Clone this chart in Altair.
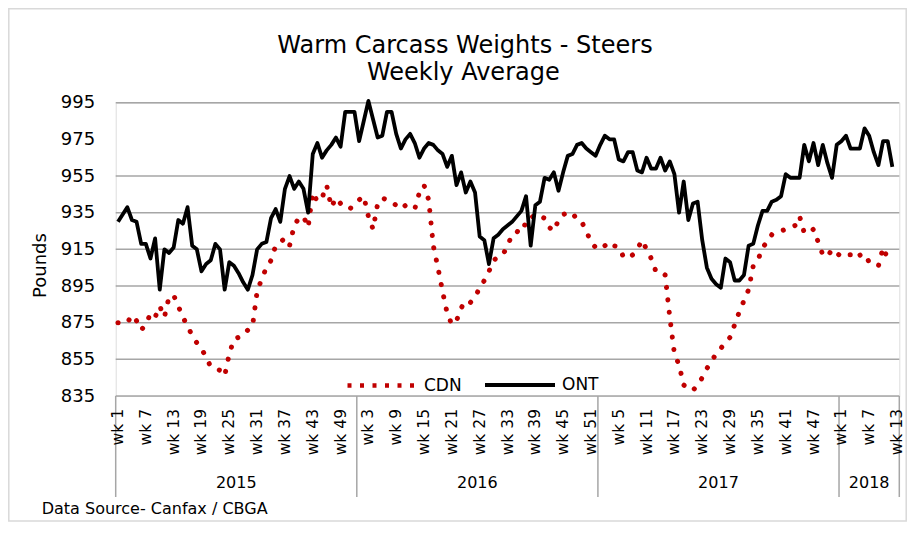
import altair as alt
import pandas as pd

# ---------------- data ----------------
title_lines = ["Warm Carcass Weights - Steers", "Weekly Average"]
source_note = ["Data Source- Canfax / CBGA"]
years = ["2015", "2016", "2017", "2018"]
weeks_in_year = [52, 52, 52, 13]
tick_labels = [
    "wk 1", "wk 7", "wk 13", "wk 19", "wk 25", "wk 31", "wk 37", "wk 43", "wk 49",
    "wk 3", "wk 9", "wk 15", "wk 21", "wk 27", "wk 33", "wk 39", "wk 45", "wk 51",
    "wk 5", "wk 11", "wk 17", "wk 23", "wk 29", "wk 35", "wk 41", "wk 47",
    "wk 1", "wk 7", "wk 13",
]
y_ticks = [835, 855, 875, 895, 915, 935, 955, 975, 995]
grid_values = [835, 855, 875, 895, 915, 935, 955, 995]

ont = [
    930, 934, 938, 931, 930, 918, 918, 910, 921, 893,
    915, 913, 916, 931, 929, 938, 917, 915, 903, 907,
    909, 918, 915, 893, 908, 906, 902, 897, 893, 901,
    915, 918, 919, 932, 937, 930, 948, 955, 948, 952,
    948, 935, 967, 973, 965, 969, 972, 976, 971, 990,
    990, 990, 974, 985, 996, 986, 976, 977, 990, 990,
    978, 970, 975, 978, 973, 965, 970, 973, 972, 969,
    967, 960, 966, 950, 957, 946, 952, 946, 922, 920,
    907, 921, 923, 926, 928, 930, 933, 936, 944, 917,
    939, 941, 954, 953, 957, 947, 957, 966, 967, 972,
    973, 970, 968, 966, 972, 977, 975, 975, 964, 963,
    968, 968, 958, 957, 965, 959, 959, 965, 958, 963,
    956, 935, 952, 931, 940, 941, 920, 905, 899, 896,
    894, 910, 908, 898, 898, 901, 917, 918, 928, 936,
    936, 941, 942, 944, 956, 954, 954, 954, 972, 963,
    973, 961, 972, 962, 954, 972, 974, 977, 970, 970,
    970, 981, 977, 968, 961, 974, 974, 960,
]
cdn = [
    875, 875, 875, 879, 876, 871, 874, 880, 878, 884,
    878, 889, 890, 884, 878, 873, 868, 864, 861, 856,
    851, 850, 849, 846, 858, 866, 867, 868, 871, 873,
    892, 899, 905, 909, 917, 919, 921, 917, 928, 932,
    933, 927, 946, 941, 943, 950, 938, 943, 940, 938,
    937, 940, 942, 944, 933, 926, 940, 943, 942, 941,
    939, 937, 939, 938, 937, 946, 950, 942, 917, 905,
    892, 880, 874, 876, 883, 887, 886, 889, 894, 898,
    903, 909, 911, 912, 917, 923, 924, 929, 928, 932,
    934, 933, 932, 927, 925, 931, 934, 935, 935, 931,
    930, 925, 919, 916, 915, 917, 919, 917, 916, 911,
    910, 912, 915, 920, 915, 910, 903, 903, 901, 878,
    858, 852, 841, 839, 838, 841, 845, 850, 854, 858,
    861, 864, 867, 874, 881, 887, 893, 906, 909, 916,
    919, 923, 924, 925, 926, 927, 928, 933, 924, 924,
    926, 919, 912, 911, 915, 913, 911, 912, 912, 910,
    912, 908, 909, 908, 906, 916, 910, 910,
]

# ---------------- tables ----------------
cdn_df = pd.DataFrame({"x": [i + 0.5 for i in range(len(cdn))], "value": cdn, "series": "CDN"})
ont_df = pd.DataFrame({"x": [i + 0.5 for i in range(len(ont))], "value": ont, "series": "ONT"})

total_weeks = sum(weeks_in_year)
ticks_df = pd.DataFrame({"x": [i * 6 + 0.5 for i in range(len(tick_labels))],
                         "label": tick_labels})
bounds = [0]
for n in weeks_in_year:
    bounds.append(bounds[-1] + n)
years_df = pd.DataFrame({"x": [(bounds[k] + bounds[k + 1]) / 2 for k in range(len(years))],
                         "label": years})
div_df = pd.DataFrame({"x": bounds})
grid_df = pd.DataFrame({"value": grid_values})

W = 783.6
H = 293.3
FONT = "DejaVu Sans"
GRAY = "#A6A6A6"
BLACK = "#000000"
RED = "#C00000"

xscale = alt.Scale(domain=[0, total_weeks], nice=False, zero=False)
yscale = alt.Scale(domain=[835, 995], nice=False, zero=False)
yaxis = alt.Axis(values=y_ticks, grid=False, domain=False, ticks=False, tickSize=0,
                 labelFontSize=18, labelFont=FONT, labelColor=BLACK, labelPadding=21,
                 title="Pounds", titleFont=FONT, titleFontSize=18, titleFontWeight="normal",
                 titleColor=BLACK, titleAngle=270, titleAlign="center",
                 titleBaseline="alphabetic", titleX=-70.7, titleY=162.3)

grid = alt.Chart(grid_df).mark_rule(color=GRAY, strokeWidth=1.5).encode(
    y=alt.Y("value:Q", scale=yscale, axis=yaxis),
    x=alt.value(0), x2=alt.value(W),
)

dividers = alt.Chart(div_df).mark_rule(color=GRAY, strokeWidth=1.5).encode(
    x=alt.X("x:Q", scale=xscale, axis=None),
    y=alt.value(H), y2=alt.value(H + 101),
)

week_labels = alt.Chart(ticks_df).mark_text(
    angle=270, align="right", baseline="middle", fontSize=15.5, font=FONT, color=BLACK
).encode(
    x=alt.X("x:Q", scale=xscale, axis=None),
    y=alt.value(H + 13),
    text="label:N",
)

year_labels = alt.Chart(years_df).mark_text(
    align="center", baseline="middle", fontSize=16, font=FONT, color=BLACK
).encode(
    x=alt.X("x:Q", scale=xscale, axis=None),
    y=alt.value(H + 87),
    text="label:N",
)

cdn_legend = alt.Legend(title=None, orient="none", legendX=229.3, legendY=246.8,
                        symbolType="stroke", symbolSize=4489, symbolDash=[4, 8.5],
                        symbolStrokeWidth=4.5, symbolStrokeColor=RED,
                        labelFontSize=17, labelFont=FONT, labelColor=BLACK, labelOffset=7)
ont_legend = alt.Legend(title=None, orient="none", legendX=367.3, legendY=245.3,
                        symbolType="stroke", symbolSize=4900, symbolStrokeWidth=4,
                        symbolStrokeColor=BLACK,
                        labelFontSize=17, labelFont=FONT, labelColor=BLACK, labelOffset=5)

cdn_line = alt.Chart(cdn_df).mark_line(
    strokeWidth=5, strokeCap="round", strokeDash=[0.1, 12.4], strokeJoin="round"
).encode(
    x=alt.X("x:Q", scale=xscale, axis=None),
    y=alt.Y("value:Q", scale=yscale, axis=yaxis),
    color=alt.Color("series:N", scale=alt.Scale(domain=["CDN"], range=[RED]),
                    legend=cdn_legend),
)

ont_line = alt.Chart(ont_df).mark_line(strokeWidth=3.8, strokeJoin="round").encode(
    x=alt.X("x:Q", scale=xscale, axis=None),
    y=alt.Y("value:Q", scale=yscale, axis=yaxis),
    stroke=alt.Stroke("series:N", scale=alt.Scale(domain=["ONT"], range=[BLACK]),
                      legend=ont_legend),
)

title1 = alt.Chart(pd.DataFrame({"t": [title_lines[0]]})).mark_text(
    align="center", baseline="alphabetic", fontSize=24, font=FONT, color=BLACK
).encode(x=alt.value(349.3), y=alt.value(-49.4), text="t:N")

title2 = alt.Chart(pd.DataFrame({"t": [title_lines[1]]})).mark_text(
    align="center", baseline="alphabetic", fontSize=24, font=FONT, color=BLACK
).encode(x=alt.value(347.6), y=alt.value(-22.7), text="t:N")

source = alt.Chart(pd.DataFrame({"t": source_note})).mark_text(
    align="left", baseline="alphabetic", fontSize=16, font=FONT, color=BLACK
).encode(x=alt.value(-74), y=alt.value(H + 117.5), text="t:N")

frame = alt.Chart(pd.DataFrame({"a": [0]})).mark_rect(
    fillOpacity=0, stroke="#D9D9D9", strokeWidth=1.5
).encode(x=alt.value(-106.9), x2=alt.value(W + 6.9), y=alt.value(-93.9), y2=alt.value(H + 125))

chart = alt.layer(
    frame, grid, dividers, week_labels, year_labels, cdn_line, ont_line, title1, title2, source
).properties(
    width=W, height=H,
    padding={"left": 107.7, "top": 94.7, "right": 7.7, "bottom": 126},
    autosize=alt.AutoSizeParams(type="none"),
).resolve_scale(color="independent", stroke="independent").configure_view(
    strokeWidth=0
).configure(background="white")

chart.save("out.html", embed_options={"renderer": "svg", "actions": False})
